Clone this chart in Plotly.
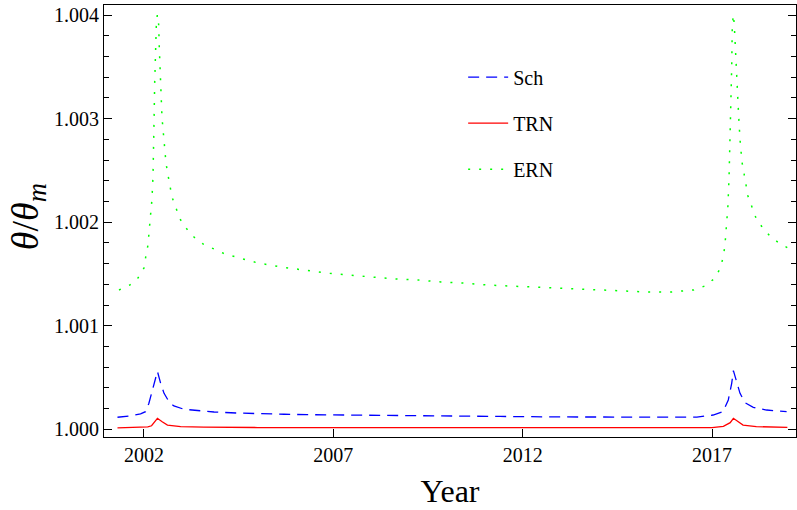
import plotly.graph_objects as go

# ---- data ----
ern_year = [2001.34, 2001.63, 2001.84, 2002.00, 2002.05, 2002.106, 2002.132, 2002.158, 2002.185, 2002.211,
            2002.238, 2002.264, 2002.272, 2002.282, 2002.298, 2002.317, 2002.325, 2002.352, 2002.388, 2002.404,
            2002.423, 2002.449, 2002.475, 2002.528, 2002.581, 2002.634, 2002.687, 2002.739, 2002.845, 2002.951,
            2003.109, 2003.320, 2003.558, 2003.848, 2004.139, 2004.429, 2004.720, 2005.010, 2005.62, 2006.20,
            2006.81, 2007.41, 2008.02, 2008.63, 2009.24, 2009.84, 2010.45, 2011.06, 2011.66, 2012.27,
            2012.88, 2013.49, 2014.09, 2014.70, 2015.31, 2015.92, 2016.23, 2016.52, 2016.81, 2017.05,
            2017.21, 2017.29, 2017.34, 2017.39, 2017.42, 2017.45, 2017.47, 2017.50, 2017.52, 2017.535,
            2017.563, 2017.587, 2017.613, 2017.640, 2017.666, 2017.704, 2017.738, 2017.764, 2017.791, 2017.844,
            2017.897, 2017.949, 2018.055, 2018.161, 2018.320, 2018.530, 2018.768, 2019.006]
ern_val = [1.001346, 1.001394, 1.001461, 1.001558, 1.001674, 1.001780, 1.001896, 1.002002, 1.002118, 1.002224,
           1.002446, 1.002784, 1.003115, 1.003341, 1.003559, 1.003785, 1.003894, 1.004003, 1.003906, 1.003684,
           1.003459, 1.003237, 1.003013, 1.002793, 1.002571, 1.002456, 1.002350, 1.002243, 1.002137, 1.002031,
           1.001944, 1.001857, 1.001790, 1.001741, 1.001693, 1.001664, 1.001635, 1.001606, 1.001568, 1.001538,
           1.001509, 1.001490, 1.001471, 1.001452, 1.001442, 1.001423, 1.001413, 1.001394, 1.001384, 1.001375,
           1.001365, 1.001355, 1.001346, 1.001336, 1.001326, 1.001326, 1.001336, 1.001346, 1.001384, 1.001452,
           1.001548, 1.001654, 1.001770, 1.001992, 1.002156, 1.002436, 1.002712, 1.003044, 1.003500, 1.003887,
           1.004003, 1.003913, 1.003694, 1.003469, 1.003244, 1.003025, 1.002803, 1.002697, 1.002581, 1.002475,
           1.002359, 1.002253, 1.002147, 1.002041, 1.001954, 1.001867, 1.001799, 1.001750]

sch_year = [2001.30, 2001.60, 2001.91, 2002.04, 2002.13, 2002.22, 2002.31, 2002.355, 2002.44, 2002.53,
            2002.66, 2002.79, 2003.06, 2003.41, 2003.85, 2004.46, 2005.09, 2005.70, 2006.31, 2007.00,
            2008.80, 2010.55, 2011.40, 2013.10, 2014.90, 2016.60, 2017.03, 2017.29, 2017.43, 2017.52,
            2017.565, 2017.667, 2017.74, 2017.87, 2018.09, 2018.44, 2018.97]
sch_val = [1.000117, 1.000129, 1.000149, 1.000171, 1.000252, 1.000380, 1.000509, 1.000560, 1.000445, 1.000348,
           1.000267, 1.000226, 1.000194, 1.000181, 1.000168, 1.000158, 1.000150, 1.000146, 1.000142, 1.000139,
           1.000132, 1.000129, 1.000125, 1.000120, 1.000117, 1.000118, 1.000139, 1.000171, 1.000284, 1.000445,
           1.000567, 1.000445, 1.000348, 1.000258, 1.000213, 1.000187, 1.000171]

trn_year = [2001.30, 2001.82, 2002.10, 2002.20, 2002.27, 2002.355, 2002.48, 2002.62, 2002.97, 2003.58,
            2005.00, 2008.00, 2012.00, 2016.00, 2017.00, 2017.30, 2017.48, 2017.565, 2017.68, 2017.82,
            2018.17, 2018.99]
trn_val = [1.000014, 1.000018, 1.000025, 1.000035, 1.000065, 1.000107, 1.000074, 1.000042, 1.000027, 1.000021,
           1.000018, 1.000016, 1.000015, 1.000014, 1.000017, 1.000030, 1.000065, 1.000107, 1.000074, 1.000042,
           1.000027, 1.000020]

x_ticks = [2002, 2007, 2012, 2017]
y_ticks = [1.000, 1.001, 1.002, 1.003, 1.004]

FONT = "Liberation Serif"

fig = go.Figure()
fig.add_trace(go.Scatter(x=sch_year, y=sch_val, mode="lines", name="Sch", legendgroup="a",
                         line=dict(color="#0000ff", width=1.3, dash="11px,7px")))
fig.add_trace(go.Scatter(x=trn_year, y=trn_val, mode="lines", name="TRN", legendgroup="b",
                         line=dict(color="#ff0000", width=1.3)))
fig.add_trace(go.Scatter(x=ern_year, y=ern_val, mode="lines", name="ERN", legendgroup="c",
                         line=dict(color="#00ff00", width=1.5, dash="2px,9px")))

fig.update_layout(
    width=797, height=510,
    margin=dict(l=104, r=1, t=5, b=73),
    paper_bgcolor="white", plot_bgcolor="white",
    font=dict(family=FONT, size=20, color="black"),
    showlegend=True,
    legend=dict(x=0.519, y=0.878, xanchor="left", yanchor="top",
                bgcolor="rgba(0,0,0,0)", font=dict(family=FONT, size=20),
                tracegroupgap=17, itemwidth=40),
    xaxis=dict(range=[2000.944, 2019.218], tickvals=x_ticks, ticktext=[str(v) for v in x_ticks],
               ticks="inside", ticklen=8, tickcolor="black", showline=True, linecolor="black",
               linewidth=1, mirror=True, showgrid=False, zeroline=False, automargin=False,
               tickfont=dict(family=FONT, size=20),
               title=dict(text="Year", font=dict(family=FONT, size=32), standoff=14)),
    yaxis=dict(range=[0.9999266, 1.0040965], tickvals=y_ticks, tickformat=".3f",
               ticks="inside", ticklen=8, tickcolor="black", showline=True, linecolor="black",
               linewidth=1, mirror="allticks", showgrid=False, zeroline=False, automargin=False,
               ticklabeloverflow="allow",
               minor=dict(dtick=0.0002, tick0=1.0, ticks="inside", ticklen=5, tickcolor="black", showgrid=False),
               tickfont=dict(family=FONT, size=20)),
    annotations=[dict(text="<i>θ</i>/<i>θ</i><sub><i>m</i></sub>", xref="paper", yref="paper",
                      x=-0.1098, y=0.509, xanchor="center", yanchor="middle", textangle=-90,
                      showarrow=False, font=dict(family=FONT, size=38))],
)

fig.write_html("out.html", config={"displayModeBar": False},
               post_script="document.body.style.margin='0';")
